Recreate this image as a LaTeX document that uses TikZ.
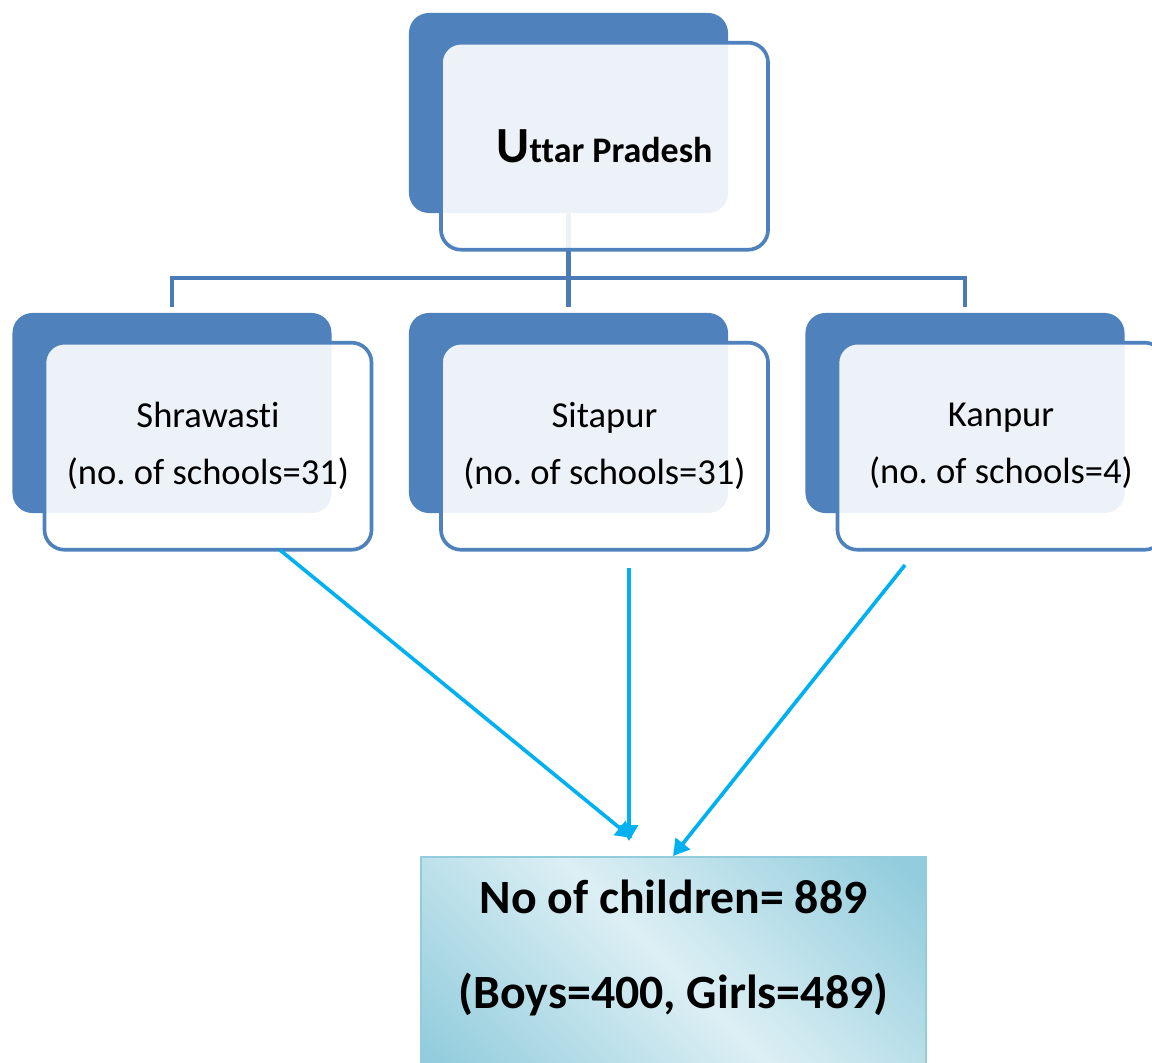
\documentclass[tikz,border=0pt]{standalone}
\usepackage{fontspec}
\setmainfont{Carlito}[Ligatures=NoCommon]
\frenchspacing
\usetikzlibrary{arrows.meta,positioning}
\definecolor{OfficeBlue}{HTML}{4F81BD}
\definecolor{LinkBlue}{HTML}{4A7BB7}
\definecolor{ArrowCyan}{HTML}{00B0F0}
\definecolor{AquaLight}{HTML}{DCEFF4}
\definecolor{AquaDark}{HTML}{93CDDD}
\pgfdeclarehorizontalshading{aquaband}{100bp}{color(0bp)=(AquaDark); color(18bp)=(AquaDark); color(50bp)=(AquaLight); color(82bp)=(AquaDark); color(100bp)=(AquaDark)}

\begin{document}
\begin{tikzpicture}[x=0.025cm,y=-0.025cm,
    backbox/.style={rounded corners=.5cm,fill=OfficeBlue,inner sep=0pt,
                    minimum width=7.975cm,minimum height=5cm},
    frontbox/.style={rounded corners=.5cm,draw=OfficeBlue,line width=2.6pt,
                     fill=white,fill opacity=.9,text opacity=1,align=center,
                     minimum width=8.175cm,minimum height=5.175cm,
                     xshift=.9cm,yshift=-.83cm,font=\fontsize{26}{40.5}\selectfont},
    resbox/.style={shading=aquaband,shading angle=45,draw=AquaDark,line width=1.2pt,
                   minimum width=12.625cm,minimum height=5.6cm,anchor=north},
    restext/.style={anchor=base,font=\fontsize{34}{40}\selectfont\bfseries},
    link/.style={draw=LinkBlue,line width=3pt},
    arr/.style={-{Triangle[length=4mm,width=4.5mm]},ArrowCyan,line width=2.6pt}]
    \useasboundingbox (0,0) rectangle (1152,1063);
    \node[backbox] (upb) at (568.5,113) {};
    \node[backbox] (shb) at (172,413) {};
    \node[backbox] (sib) at (568.5,413) {};
    \node[backbox] (kab) at (965,413) {};
    \coordinate (hub) at (568.5,278);
    \draw[link] (upb.south) -- (hub);
    \draw[link,shorten >=4pt] (hub) -| (shb.north);
    \draw[link,shorten >=4pt] (hub) -- (sib.north);
    \draw[link,shorten >=4pt] (hub) -| (kab.north);
    \node[frontbox,font=\bfseries] (upf) at (upb)
        {{\fontsize{36}{40}\selectfont U}{\fontsize{25.6}{30}\selectfont ttar Pradesh}};
    \node[frontbox] (shf) at (shb) {Shrawasti\\(no. of schools=31)};
    \node[frontbox] (sif) at (sib) {Sitapur\\(no. of schools=31)};
    \node[frontbox] (kaf) at (kab) {Kanpur\\(no. of schools=4)};
    \node[resbox] (res) at (673.5,856) {};
    \node[restext] (kids) at (673.5,913) {No of children= 889};
    \node[restext] (split) at (673.5,1008) {(Boys=400, Girls=489)};
    % arrows down to the total
    \coordinate (s1) at (280,550);
    \coordinate (s2) at (629,568);
    \coordinate (s3) at (905,565);
    \coordinate (t1) at (632,838);
    \coordinate (t2) at (629,841);
    \coordinate (t3) at (673,856);
    \draw[arr] (s1) -- (t1);
    \draw[arr] (s2) -- (t2);
    \draw[arr] (s3) -- (t3);
\end{tikzpicture}
\end{document}
